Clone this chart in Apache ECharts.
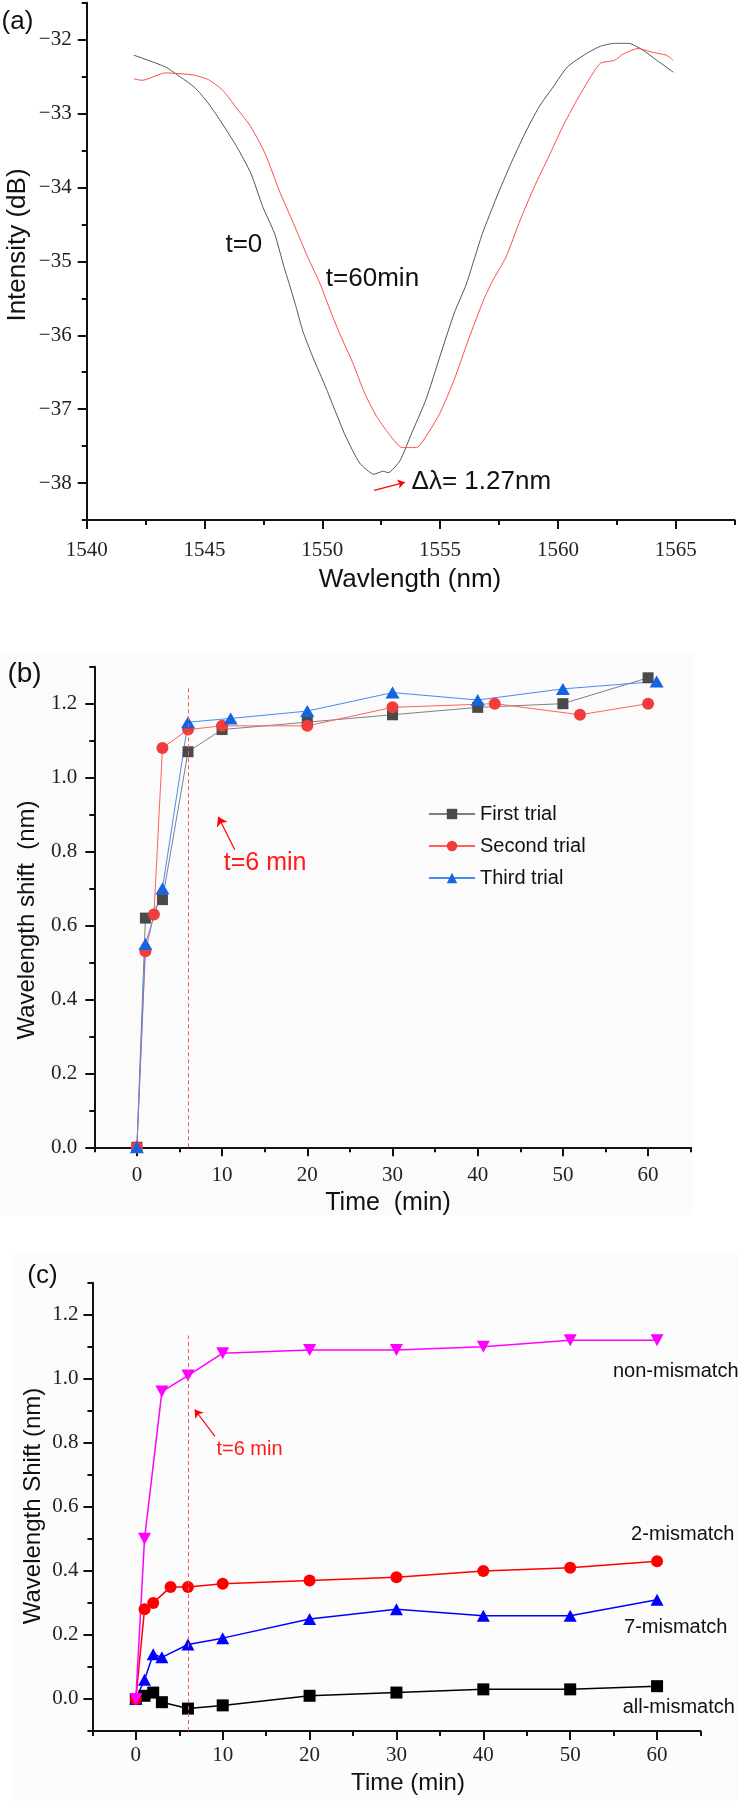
<!DOCTYPE html>
<html>
<head>
<meta charset="utf-8">
<script src="https://cdn.jsdelivr.net/npm/echarts@6/dist/echarts.min.js"></script>
<style>
    html, body { margin: 0; padding: 0; background: #fff; }
    #chart { width: 738px; height: 1801px; }
</style>
</head>
<body>
<div id="chart"></div>
<script>
// (a) transmission spectrum, t=0 and t=60min
const wavelength0 = [1542.0, 1543.35, 1543.86, 1544.56, 1545.16, 1545.76, 1546.37, 1546.97, 1547.47, 1547.97,
    1548.37, 1548.61, 1548.88, 1549.18, 1549.58, 1550.18, 1550.58, 1550.98, 1551.59, 1552.19,
    1552.59, 1552.79, 1553.29, 1553.8, 1554.4, 1555.0, 1555.6, 1556.1, 1556.4, 1556.8,
    1557.4, 1558.0, 1558.6, 1559.2, 1559.8, 1560.4, 1561.2, 1561.8, 1562.4, 1563.0,
    1563.6, 1564.2, 1564.9];
const intensity0 = [-32.21, -32.37, -32.48, -32.64, -32.86, -33.14, -33.45, -33.81, -34.26, -34.62,
    -35.07, -35.32, -35.61, -35.95, -36.28, -36.73, -37.05, -37.36, -37.73, -37.88,
    -37.84, -37.86, -37.7, -37.32, -36.87, -36.28, -35.7, -35.32, -35.02, -34.62,
    -34.13, -33.68, -33.27, -32.91, -32.64, -32.37, -32.19, -32.09, -32.05, -32.05,
    -32.14, -32.28, -32.44];
const wavelength60 = [1542.0, 1542.35, 1543.35, 1543.96, 1544.56, 1545.16, 1545.76, 1546.37, 1546.97, 1547.57,
    1548.17, 1548.78, 1549.38, 1549.9, 1550.38, 1550.78, 1551.29, 1551.79, 1552.29, 1552.79,
    1553.39, 1554.0, 1554.5, 1555.0, 1555.6, 1556.2, 1556.85, 1557.2, 1557.8, 1558.4,
    1559.0, 1559.6, 1560.2, 1560.8, 1561.4, 1561.8, 1562.4, 1562.8, 1563.4, 1564.0,
    1564.6, 1564.9];
const intensity60 = [-32.53, -32.55, -32.45, -32.46, -32.48, -32.54, -32.68, -32.93, -33.18, -33.54,
    -34.04, -34.49, -34.94, -35.3, -35.7, -36.01, -36.37, -36.78, -37.09, -37.32,
    -37.52, -37.52, -37.32, -37.05, -36.6, -36.06, -35.52, -35.28, -34.94, -34.44,
    -33.99, -33.59, -33.18, -32.82, -32.5, -32.32, -32.28, -32.19, -32.12, -32.17,
    -32.21, -32.28];

// (b) three trials
const trial1Time = [0, 1, 3, 6, 10, 20, 30, 40, 50, 60];
const trial1Shift = [0, 0.62, 0.67, 1.07, 1.13, 1.15, 1.17, 1.19, 1.2, 1.27];
const trial2Time = [0, 1, 2, 3, 6, 10, 20, 30, 42, 52, 60];
const trial2Shift = [0, 0.53, 0.63, 1.08, 1.13, 1.14, 1.14, 1.19, 1.2, 1.17, 1.2];
const trial3Time = [0, 1, 3, 6, 11, 20, 30, 40, 50, 61];
const trial3Shift = [0, 0.55, 0.7, 1.15, 1.16, 1.18, 1.23, 1.21, 1.24, 1.26];

// (c) mismatch comparison
const nonTime = [0, 1, 3, 6, 10, 20, 30, 40, 50, 60];
const nonShift = [0, 0.5, 0.96, 1.01, 1.08, 1.09, 1.09, 1.1, 1.12, 1.12];
const twoTime = [0, 1, 2, 4, 6, 10, 20, 30, 40, 50, 60];
const twoShift = [0, 0.28, 0.3, 0.35, 0.35, 0.36, 0.37, 0.38, 0.4, 0.41, 0.43];
const sevenTime = [0, 1, 2, 3, 6, 10, 20, 30, 40, 50, 60];
const sevenShift = [0, 0.06, 0.14, 0.13, 0.17, 0.19, 0.25, 0.28, 0.26, 0.26, 0.31];
const allTime = [0, 1, 2, 3, 6, 10, 20, 30, 40, 50, 60];
const allShift = [0, 0.01, 0.02, -0.01, -0.03, -0.02, 0.01, 0.02, 0.03, 0.03, 0.04];

// tick values
const aTicksX = [1540, 1545, 1550, 1555, 1560, 1565];
const aMinorX = [1542.5, 1547.5, 1552.5, 1557.5, 1562.5, 1567.5];
const aTicksY = [-38, -37, -36, -35, -34, -33, -32];
const aMinorY = [-38.5, -37.5, -36.5, -35.5, -34.5, -33.5, -32.5, -31.5];
const timeTicks = [0, 10, 20, 30, 40, 50, 60];
const timeMinor = [-5, 5, 15, 25, 35, 45, 55, 65];
const shiftTicks = [0, 0.2, 0.4, 0.6, 0.8, 1.0, 1.2];
const bMinorY = [0.1, 0.3, 0.5, 0.7, 0.9, 1.1, 1.3];
const cMinorY = [-0.1, 0.1, 0.3, 0.5, 0.7, 0.9, 1.1, 1.3];

const SANS = '"Liberation Sans", Arial, sans-serif';
const SERIF = '"Liberation Serif", "Times New Roman", serif';
const AXIS = { color: '#111', width: 2 };

const zip = (xs, ys) => xs.map((x, i) => [x, ys[i]]);

function axisPair(grid, pos, min, max, major, minor, fmt, margin) {
    return [
        {
            type: 'value', gridIndex: grid, position: pos, min, max,
            axisLine: { show: true, onZero: false, lineStyle: AXIS },
            axisTick: { show: true, customValues: major, length: 9, lineStyle: AXIS },
            axisLabel: {
                customValues: major, formatter: fmt, margin,
                color: '#222', fontFamily: SERIF, fontSize: 21,
            },
            splitLine: { show: false },
        },
        {
            type: 'value', gridIndex: grid, position: pos, min, max,
            axisLine: { show: false, onZero: false },
            axisTick: { show: true, customValues: minor, length: 5, lineStyle: AXIS },
            axisLabel: { show: false },
            splitLine: { show: false },
        },
    ];
}

const minusFmt = (v) => String(v).replace('-', '\u2212');
const oneDec = (v) => v.toFixed(1);

function textMark(coord, text, color, size) {
    return {
        coord, symbol: 'rect', symbolSize: 1,
        itemStyle: { color: 'rgba(0,0,0,0)' },
        label: {
            show: true, position: 'inside', formatter: text,
            color, fontSize: size, fontFamily: SANS,
        },
    };
}

function arrow(from, to, size) {
    return [
        { coord: from, symbol: 'none', lineStyle: { color: '#ff0000', width: 1.2, type: 'solid' } },
        { coord: to, symbol: 'arrow', symbolSize: size },
    ];
}

function dashed(x, y0, y1) {
    return [
        { coord: [x, y0], symbol: 'none', lineStyle: { color: '#ff5555', width: 1, type: [4, 3] } },
        { coord: [x, y1], symbol: 'none' },
    ];
}

function title(text, x, y, size, vertical) {
    return {
        type: 'text', x, y, rotation: vertical ? Math.PI / 2 : 0,
        style: {
            text, font: size + 'px ' + SANS, fill: '#111',
            align: 'center', verticalAlign: 'middle',
        },
    };
}

const chart = echarts.init(document.getElementById('chart'), null, { renderer: 'canvas' });

chart.setOption({
    animation: false,
    backgroundColor: '#ffffff',
    grid: [
        { left: 86.7, top: 2.7, width: 647.9, height: 517.3 },
        { left: 94.3, top: 666.7, width: 596.4, height: 480.6 },
        { left: 92.4, top: 1282.7, width: 608.1, height: 448.3 },
    ],
    xAxis: [
        ...axisPair(0, 'bottom', 1540, 1567.5, aTicksX, aMinorX, (v) => String(v), 20),
        ...axisPair(1, 'bottom', -5, 65, timeTicks, timeMinor, (v) => String(v), 18),
        ...axisPair(2, 'bottom', -5, 65, timeTicks, timeMinor, (v) => String(v), 14),
    ],
    yAxis: [
        ...axisPair(0, 'left', -38.5, -31.5, aTicksY, aMinorY, minusFmt, 15),
        ...axisPair(1, 'left', 0, 1.3, shiftTicks, bMinorY, oneDec, 17),
        ...axisPair(2, 'left', -0.1, 1.3, shiftTicks, cMinorY, oneDec, 14),
    ],
    legend: {
        data: ['First trial', 'Second trial', 'Third trial'],
        orient: 'vertical', left: 423, top: 799,
        itemWidth: 46, itemHeight: 13, itemGap: 12,
        textStyle: { fontFamily: SANS, fontSize: 20, color: '#111' },
    },
    graphic: [
        { type: 'rect', z: -10, shape: { x: 0, y: 653, width: 693, height: 562 }, style: { fill: '#fbfbfb' } },
        { type: 'rect', z: -10, shape: { x: 13, y: 1254, width: 725, height: 547 }, style: { fill: '#fcfcfc' } },
        title('(a)', 17.5, 21.5, 26),
        title('(b)', 24.5, 674.5, 28),
        title('(c)', 42.5, 1275.5, 26),
        title('Wavlength (nm)', 410, 580, 26),
        title('Intensity (dB)', 18, 245, 26, true),
        title('Time  (min)', 388, 1203, 25),
        title('Wavelength shift  (nm)', 27, 920, 24, true),
        title('Time (min)', 408, 1783, 24),
        title('Wavelength Shift (nm)', 33, 1506, 24, true),
    ],
    series: [
        // (a)
        {
            name: 't=0', type: 'line', xAxisIndex: 0, yAxisIndex: 0,
            data: zip(wavelength0, intensity0), showSymbol: false, smooth: 0.2,
            lineStyle: { color: '#555555', width: 1 },
        },
        {
            name: 't=60min', type: 'line', xAxisIndex: 0, yAxisIndex: 0,
            data: zip(wavelength60, intensity60), showSymbol: false, smooth: 0.2,
            lineStyle: { color: '#ff4a4a', width: 1 },
            markLine: { silent: true, label: { show: false }, data: [arrow([1552.2, -38.1], [1553.5, -37.99], 7)] },
            markPoint: {
                silent: true,
                data: [
                    textMark([1546.67, -34.77], 't=0', '#111', 26),
                    textMark([1552.13, -35.23], 't=60min', '#111', 26),
                    textMark([1556.75, -37.98], '\u0394\u03bb= 1.27nm', '#111', 26),
                ],
            },
        },
        // (b)
        {
            name: 'First trial', type: 'line', xAxisIndex: 2, yAxisIndex: 2,
            data: zip(trial1Time, trial1Shift), symbol: 'rect', symbolSize: 11,
            itemStyle: { color: '#4a4a4a' }, lineStyle: { color: '#808080', width: 1 },
            markLine: { silent: true, label: { show: false }, data: [dashed(6, 0, 1.245)] },
        },
        {
            name: 'Second trial', type: 'line', xAxisIndex: 2, yAxisIndex: 2,
            data: zip(trial2Time, trial2Shift), symbol: 'circle', symbolSize: 12,
            itemStyle: { color: '#f23c3c' }, lineStyle: { color: '#ff6060', width: 1 },
        },
        {
            name: 'Third trial', type: 'line', xAxisIndex: 2, yAxisIndex: 2,
            data: zip(trial3Time, trial3Shift), symbol: 'triangle', symbolSize: [14, 12],
            itemStyle: { color: '#1565e0' }, lineStyle: { color: '#4a8af0', width: 1 },
            markLine: { silent: true, label: { show: false }, data: [arrow([11.49, 0.805], [9.54, 0.894], 9)] },
            markPoint: { silent: true, data: [textMark([15.05, 0.768], 't=6 min', '#ff1a1a', 25)] },
        },
        // (c)
        {
            name: 'all-mismatch', type: 'line', xAxisIndex: 4, yAxisIndex: 4,
            data: zip(allTime, allShift), symbol: 'rect', symbolSize: 12,
            itemStyle: { color: '#000000' }, lineStyle: { color: '#000000', width: 1.5 },
            markLine: { silent: true, label: { show: false }, data: [dashed(6, -0.1, 1.135)] },
        },
        {
            name: '7-mismatch', type: 'line', xAxisIndex: 4, yAxisIndex: 4,
            data: zip(sevenTime, sevenShift), symbol: 'triangle', symbolSize: [13, 12],
            itemStyle: { color: '#0000ff' }, lineStyle: { color: '#0000ff', width: 1.5 },
        },
        {
            name: '2-mismatch', type: 'line', xAxisIndex: 4, yAxisIndex: 4,
            data: zip(twoTime, twoShift), symbol: 'circle', symbolSize: 12,
            itemStyle: { color: '#ff0000' }, lineStyle: { color: '#ff0000', width: 1.5 },
        },
        {
            name: 'non-mismatch', type: 'line', xAxisIndex: 4, yAxisIndex: 4,
            data: zip(nonTime, nonShift), symbol: 'triangle', symbolRotate: 180, symbolSize: [13, 12],
            itemStyle: { color: '#ff00ff' }, lineStyle: { color: '#ff00ff', width: 1.5 },
            markLine: { silent: true, label: { show: false }, data: [arrow([9.11, 0.82], [6.77, 0.904], 8)] },
            markPoint: {
                silent: true,
                data: [
                    textMark([13.08, 0.78], 't=6 min', '#ff1a1a', 20),
                    textMark([62.15, 1.023], 'non-mismatch', '#111', 20),
                    textMark([62.96, 0.513], '2-mismatch', '#111', 20),
                    textMark([62.15, 0.223], '7-mismatch', '#111', 20),
                    textMark([62.5, -0.027], 'all-mismatch', '#111', 20),
                ],
            },
        },
    ],
});
</script>
</body>
</html>
